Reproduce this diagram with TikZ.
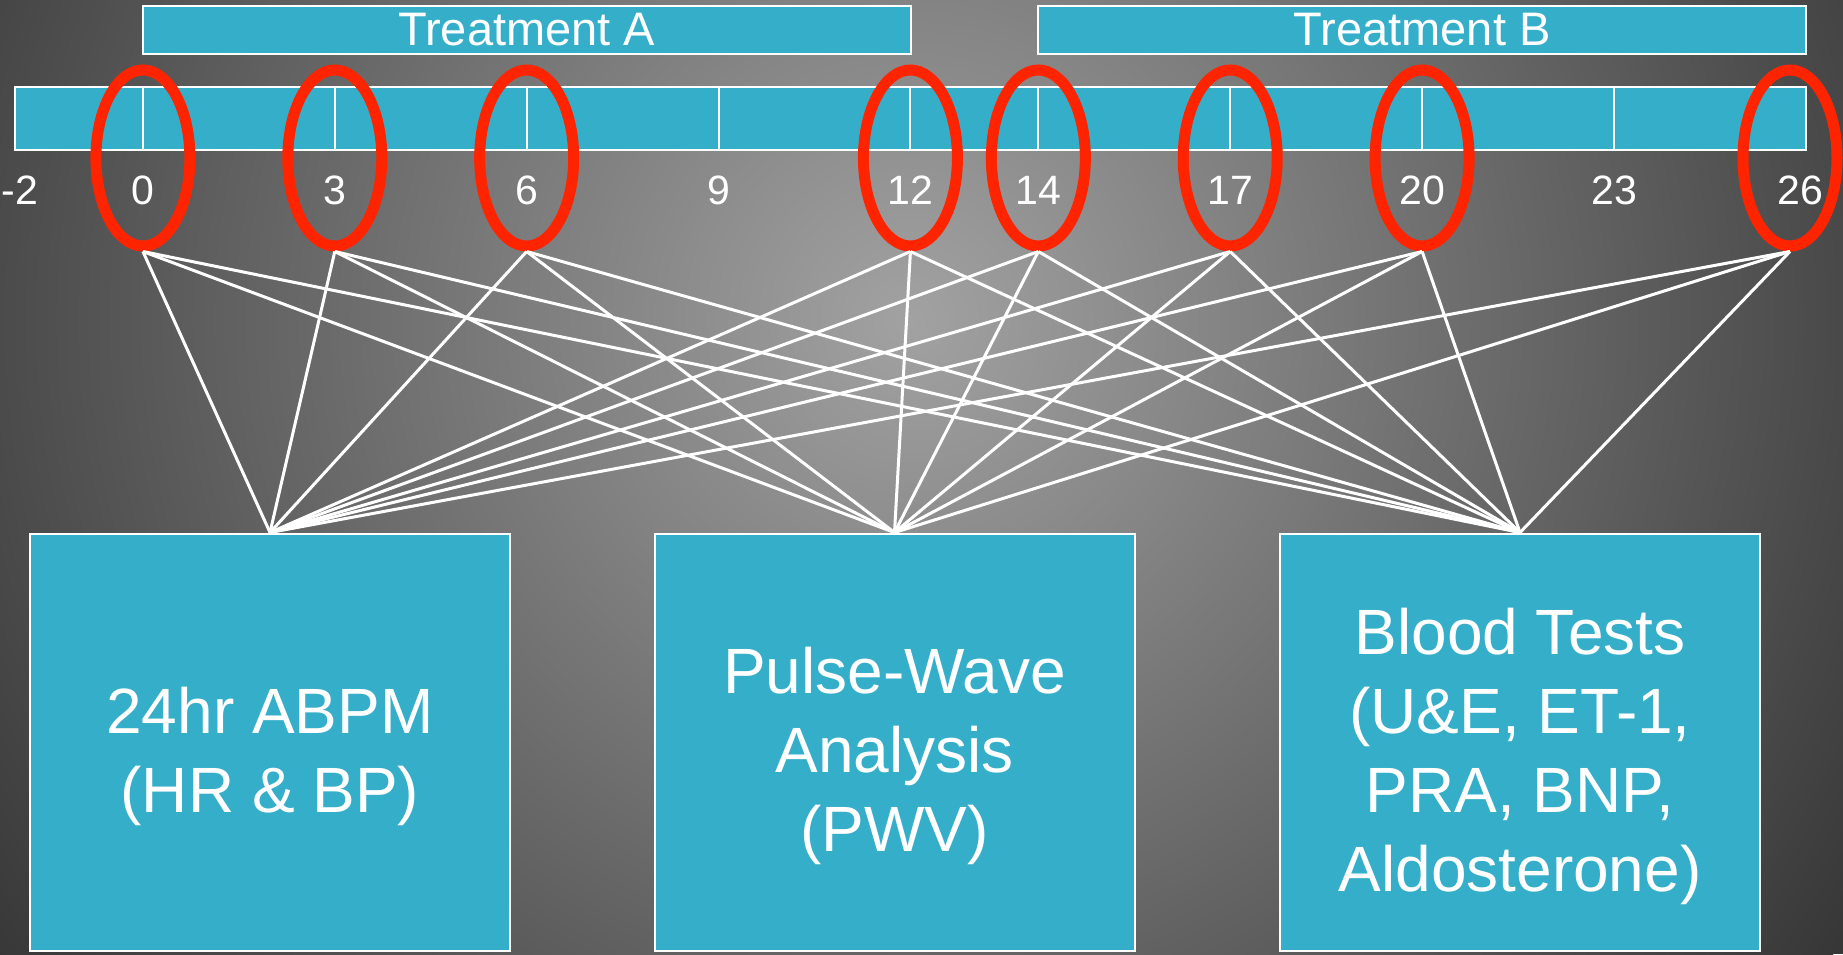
\documentclass[tikz,border=0pt]{standalone}
\usepackage{fontspec}
\setmainfont{Liberation Sans}
\usetikzlibrary{shapes.geometric}
\definecolor{bgin}{RGB}{162,162,162}
\definecolor{bgout}{RGB}{55,55,55}
\definecolor{tealbox}{RGB}{53,175,201}
\definecolor{ringred}{RGB}{255,36,0}
\pgfdeclareradialshading{bgshade}{\pgfpoint{0bp}{0bp}}{color(0bp)=(bgin); color(25bp)=(bgout); color(50bp)=(bgout)}
\tikzset{
  tbox/.style={draw=white, line width=1pt, fill=tealbox, inner sep=0pt, text=white},
  trt/.style={tbox, minimum width=384pt, minimum height=24pt, font=\fontsize{23.5}{28}\selectfont},
  bigbox/.style={tbox, minimum width=240pt, minimum height=208.5pt},
  boxtext/.style={text=white, inner sep=0pt, align=center, font=\fontsize{32}{39.5}\selectfont},
  ring/.style={ellipse, draw=ringred, line width=5.5pt, minimum width=47pt, minimum height=88pt, inner sep=0pt},
  link/.style={draw=white, line width=1.5pt},
  tickline/.style={draw=white, line width=1pt},
  ticklab/.style={text=white, inner sep=0pt, font=\fontsize{20.5}{24}\selectfont},
}
\begin{document}
\begin{tikzpicture}[x=0.5pt, y=-0.5pt]
\useasboundingbox (0,0) rectangle (1843,954);
\begin{scope}
  \clip (0,0) rectangle (1843,954);
  \fill[bgout] (0,0) rectangle (1843,954);
  \shade[shading=bgshade] (910,320) ellipse (1120 and 1120);
\end{scope}
% treatment bars
\node[trt] (ta) at (526.7,30) {Treatment A};
\node[trt] (tb) at (1422.1,30) {Treatment B};
% timeline bar
\node[tbox, minimum width=895.5pt, minimum height=31.5pt] (bar) at (910.5,118.5) {};
\foreach \t in {0,3,6,9,12,14,17,20,23} {
  \draw[tickline] ({15+(\t+2)*63.96},87) -- ({15+(\t+2)*63.96},150);
}
% tick labels
\foreach \t in {0,3,6,9,12,14,17,20,23} {
  \node[ticklab] (l\t) at ({15+(\t+2)*63.96},190) {\t};
}
\node[ticklab] (lm2) at (20,190) {-2};
\node[ticklab] (l26) at (1800,190) {26};
% boxes
\node[bigbox] (b1) at (270,742) {};
\node[bigbox] (b2) at (894.5,742) {};
\node[bigbox] (b3) at (1520,742) {};
\node[boxtext] (t1) at ([yshift=-7pt]b1.center) {24hr ABPM\\(HR \& BP)};
\node[boxtext] (t2) at ([yshift=-7pt]b2.center) {Pulse-Wave\\Analysis\\(PWV)};
\node[boxtext] (t3) at ([yshift=-7pt]b3.center) {Blood Tests\\(U\&E, ET-1,\\PRA, BNP,\\Aldosterone)};
% rings
\foreach \t in {0,3,6,12,14,17,20} {
  \node[ring] (e\t) at ({15+(\t+2)*63.96},158) {};
}
\node[ring] (e26) at (1790,158) {};
% links
\foreach \t in {0,3,6,12,14,17,20,26} {
  \foreach \b in {b1,b2,b3} {
    \draw[link] (e\t.south) -- (\b.north);
  }
}
\end{tikzpicture}
\end{document}
